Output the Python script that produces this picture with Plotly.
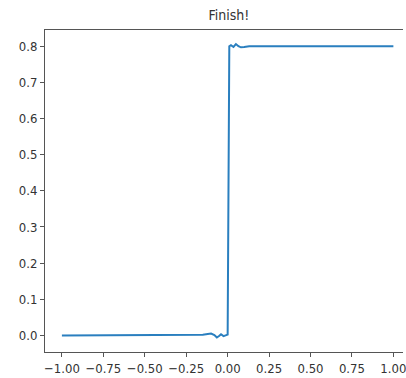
import plotly.graph_objects as go

x_vals = [-1.0, -0.5, -0.2, -0.15, -0.12, -0.1, -0.08, -0.065, -0.05, -0.04, -0.025, -0.01, 0.0, 0.01, 0.02, 0.035, 0.05, 0.065, 0.08, 0.1, 0.13, 0.2, 0.5, 1.0]
y_vals = [0.0, 0.0, 0.0005, 0.002, 0.004, 0.005, 0.001, -0.006, -0.001, 0.003, -0.002, 0.0, 0.002, 0.800, 0.803, 0.798, 0.806, 0.800, 0.797, 0.798, 0.800, 0.800, 0.800, 0.800]
x_ticks = [-1.0, -0.75, -0.5, -0.25, 0.0, 0.25, 0.5, 0.75, 1.0]
y_ticks = [0.0, 0.1, 0.2, 0.3, 0.4, 0.5, 0.6, 0.7, 0.8]

font_family = "DejaVu Sans Condensed, DejaVu Sans, sans-serif"

fig = go.Figure(go.Scatter(x=x_vals, y=y_vals, mode="lines",
                           line=dict(color="#2a7fbf", width=2)))

fig.update_layout(
    width=406, height=378,
    margin=dict(l=45, r=0, t=30, b=26),
    paper_bgcolor="white", plot_bgcolor="white",
    showlegend=False,
    font=dict(family=font_family, color="#333333", size=13),
    title=dict(text="Finish!", x=229/406, xanchor="center", y=1 - 15/378, yanchor="middle",
               font=dict(family=font_family, size=14, color="#333333")),
)
fig.update_xaxes(range=[-1.102, 1.058], tickvals=x_ticks, tickformat=".2f",
                 ticklabeloverflow="allow",
                 showgrid=False, zeroline=False, showline=True, linecolor="#555555", linewidth=1,
                 mirror=True, ticks="outside", ticklen=4, tickcolor="#555555")
fig.update_yaxes(range=[-0.046, 0.845], tickvals=y_ticks, tickformat=".1f",
                 showgrid=False, zeroline=False, showline=True, linecolor="#555555", linewidth=1,
                 ticks="outside", ticklen=4, tickcolor="#555555")

fig.write_html("out.html")
